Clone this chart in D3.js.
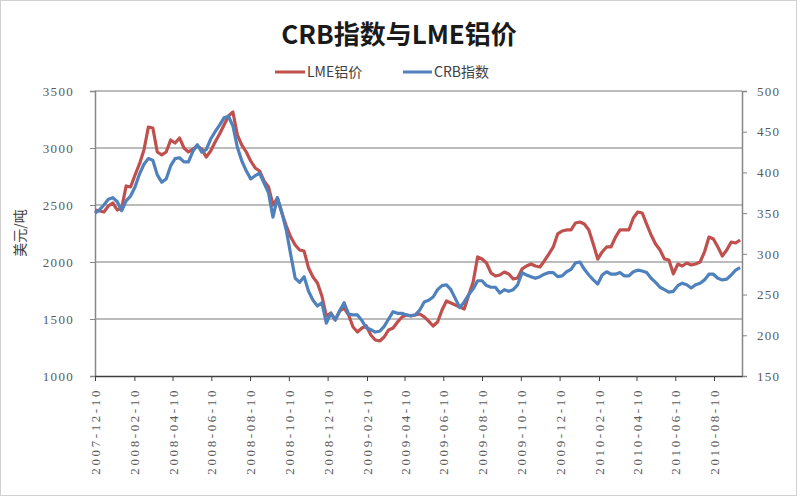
<!DOCTYPE html>
<html><head><meta charset="utf-8">
<script src="https://cdn.jsdelivr.net/npm/d3@7/dist/d3.min.js"></script>
<style>body{margin:0;background:#fff}svg{display:block}
.num{font-family:"Liberation Serif","DejaVu Serif",serif}</style>
</head><body><svg id="c" width="800" height="500"></svg>
<script>
const title = "CRB指数与LME铝价";
const seriesNames = ["LME铝价", "CRB指数"];
const yTitle = "美元/吨";
const xTickLabels = ["2007-12-10","2008-02-10","2008-04-10","2008-06-10","2008-08-10","2008-10-10","2008-12-10","2009-02-10","2009-04-10","2009-06-10","2009-08-10","2009-10-10","2009-12-10","2010-02-10","2010-04-10","2010-06-10","2010-08-10"];
const leftTicks = [1000,1500,2000,2500,3000,3500];
const rightTicks = [150,200,250,300,350,400,450,500];
// weekly observations (Mondays) starting 2007-12-10
const startDate = "2007-12-10", endDate = "2010-09-23";
const lme = [2456,2447,2439,2491,2518,2456,2474,2667,2658,2763,2860,2982,3184,3175,2965,2940,2965,3070,3044,3088,
3000,2965,2991,3018,2991,2921,2974,3053,3123,3202,3281,3316,3114,3026,2965,2886,2825,2798,2711,2658,
2500,2561,2430,2316,2219,2149,2105,2096,1947,1868,1816,1702,1526,1553,1491,1570,1596,1535,1430,1386,
1421,1439,1360,1316,1307,1342,1404,1421,1474,1518,1535,1526,1535,1544,1518,1482,1439,1474,1579,1658,
1640,1623,1605,1588,1711,1825,2044,2026,1991,1904,1877,1886,1912,1895,1851,1860,1939,1965,1982,1965,
1956,2009,2070,2132,2246,2272,2281,2281,2342,2351,2333,2281,2158,2026,2088,2132,2132,2219,2281,2281,
2281,2386,2439,2430,2333,2237,2158,2105,2026,2018,1895,1982,1965,1991,1974,1982,2000,2088,2219,2202,
2132,2053,2105,2175,2167,2193];
const crb = [350,354,360,367,369,364,353,365,371,382,398,410,417,415,397,388,392,408,417,418,
413,413,426,434,425,428,441,450,458,467,469,457,431,414,402,392,396,399,387,375,
345,369,351,329,299,270,265,272,254,243,236,240,215,227,219,230,240,226,225,225,
218,209,207,204,205,211,220,229,227,227,225,224,225,231,241,243,247,256,261,262,
256,245,234,241,250,257,267,267,261,259,259,252,256,254,256,262,277,274,272,270,
272,275,277,277,272,273,278,281,289,290,281,274,268,263,274,278,275,275,277,273,
273,278,280,279,277,270,265,259,256,253,254,261,264,262,258,262,264,268,275,275,
270,268,269,274,280,283];

const parse = d3.timeParse("%Y-%m-%d");
const dates = d3.timeMonday.range(parse(startDate), d3.timeDay.offset(parse(endDate), -2));
const svg = d3.select("#c");
const L = 95, R = 742, T = 91, B = 376;
const x = d3.scaleTime().domain([parse(startDate), parse(endDate)]).range([L, R]);
const yL = d3.scaleLinear().domain([1000, 3500]).range([B, T]);
const yR = d3.scaleLinear().domain([150, 500]).range([B, T]);
const colors = ["#C0504D", "#4F81BD"];
const axisGrey = "#868686", textGrey = "#595959";
const cjk = "'Noto Sans CJK SC','Noto Sans',sans-serif";

svg.append("rect").attr("x",0.5).attr("y",0.5).attr("width",796).attr("height",495)
  .attr("fill","#fff").attr("stroke","#d0d0d0");

// title
svg.append("text").attr("x",399).attr("y",44).attr("text-anchor","middle")
  .style("font-family",cjk).attr("font-weight","bold").attr("font-size",26)
  .attr("fill","#1a1a1a").text(title);

// legend
const leg = [{x1:275,x2:305,tx:307},{x1:403,x2:432,tx:434}];
leg.forEach((p,i)=>{
  svg.append("line").attr("x1",p.x1).attr("x2",p.x2).attr("y1",72).attr("y2",72)
    .attr("stroke",colors[i]).attr("stroke-width",3);
  svg.append("text").attr("x",p.tx).attr("y",77).style("font-family",cjk).attr("font-size",14)
    .attr("fill","#404040").text(seriesNames[i]);
});

// gridlines
svg.append("g").selectAll("line").data(leftTicks.filter(d=>d>1000)).join("line")
  .attr("x1",L).attr("x2",R).attr("y1",d=>yL(d)).attr("y2",d=>yL(d))
  .attr("stroke","#a6a6a6").attr("stroke-width",1.5);

// left axis
const gl = svg.append("g").attr("transform",`translate(${L},0)`)
  .call(d3.axisLeft(yL).tickValues(leftTicks).tickSize(5).tickPadding(16).tickFormat(d3.format("d")));
gl.attr("font-family",null);
gl.select(".domain").attr("stroke",axisGrey).attr("stroke-width",1.5);
gl.selectAll(".tick line").attr("stroke",axisGrey);
gl.selectAll("text").attr("class","num").attr("font-size",13).attr("fill",textGrey)
  .attr("letter-spacing",1.3);

// right axis
const gr = svg.append("g").attr("transform",`translate(${R},0)`)
  .call(d3.axisRight(yR).tickValues(rightTicks).tickSize(5).tickPadding(10).tickFormat(d3.format("d")));
gr.attr("font-family",null);
gr.select(".domain").attr("stroke",axisGrey).attr("stroke-width",1.5);
gr.selectAll(".tick line").attr("stroke",axisGrey);
gr.selectAll("text").attr("class","num").attr("font-size",13).attr("fill",textGrey)
  .attr("letter-spacing",1.3);

// bottom axis
const gb = svg.append("g").attr("transform",`translate(0,${B})`)
  .call(d3.axisBottom(x).tickValues(xTickLabels.map(parse)).tickSize(5).tickSizeOuter(0)
    .tickFormat(d3.timeFormat("%Y-%m-%d")));
gb.attr("font-family",null);
gb.select(".domain").attr("stroke","#404040").attr("stroke-width",1.5);
gb.selectAll(".tick line").attr("stroke","#404040");
gb.selectAll("text").attr("class","num").attr("font-size",13).attr("fill",textGrey)
  .attr("letter-spacing",2.6)
  .attr("transform","rotate(-90)").attr("text-anchor","end")
  .attr("x",-12).attr("y",0).attr("dy","0.35em");

// y title
svg.append("text").attr("transform","translate(20,233) rotate(-90)").attr("text-anchor","middle")
  .attr("dy","0.35em").style("font-family",cjk).attr("font-size",14).attr("fill","#404040").text(yTitle);

// lines
const lineL = d3.line().x((d,i)=>x(dates[i])).y(d=>yL(d));
const lineR = d3.line().x((d,i)=>x(dates[i])).y(d=>yR(d));
svg.append("path").datum(lme).attr("d",lineL).attr("fill","none").attr("stroke",colors[0])
  .attr("stroke-width",3.2).attr("stroke-linejoin","round");
svg.append("path").datum(crb).attr("d",lineR).attr("fill","none").attr("stroke",colors[1])
  .attr("stroke-width",3.2).attr("stroke-linejoin","round");
</script></body></html>
